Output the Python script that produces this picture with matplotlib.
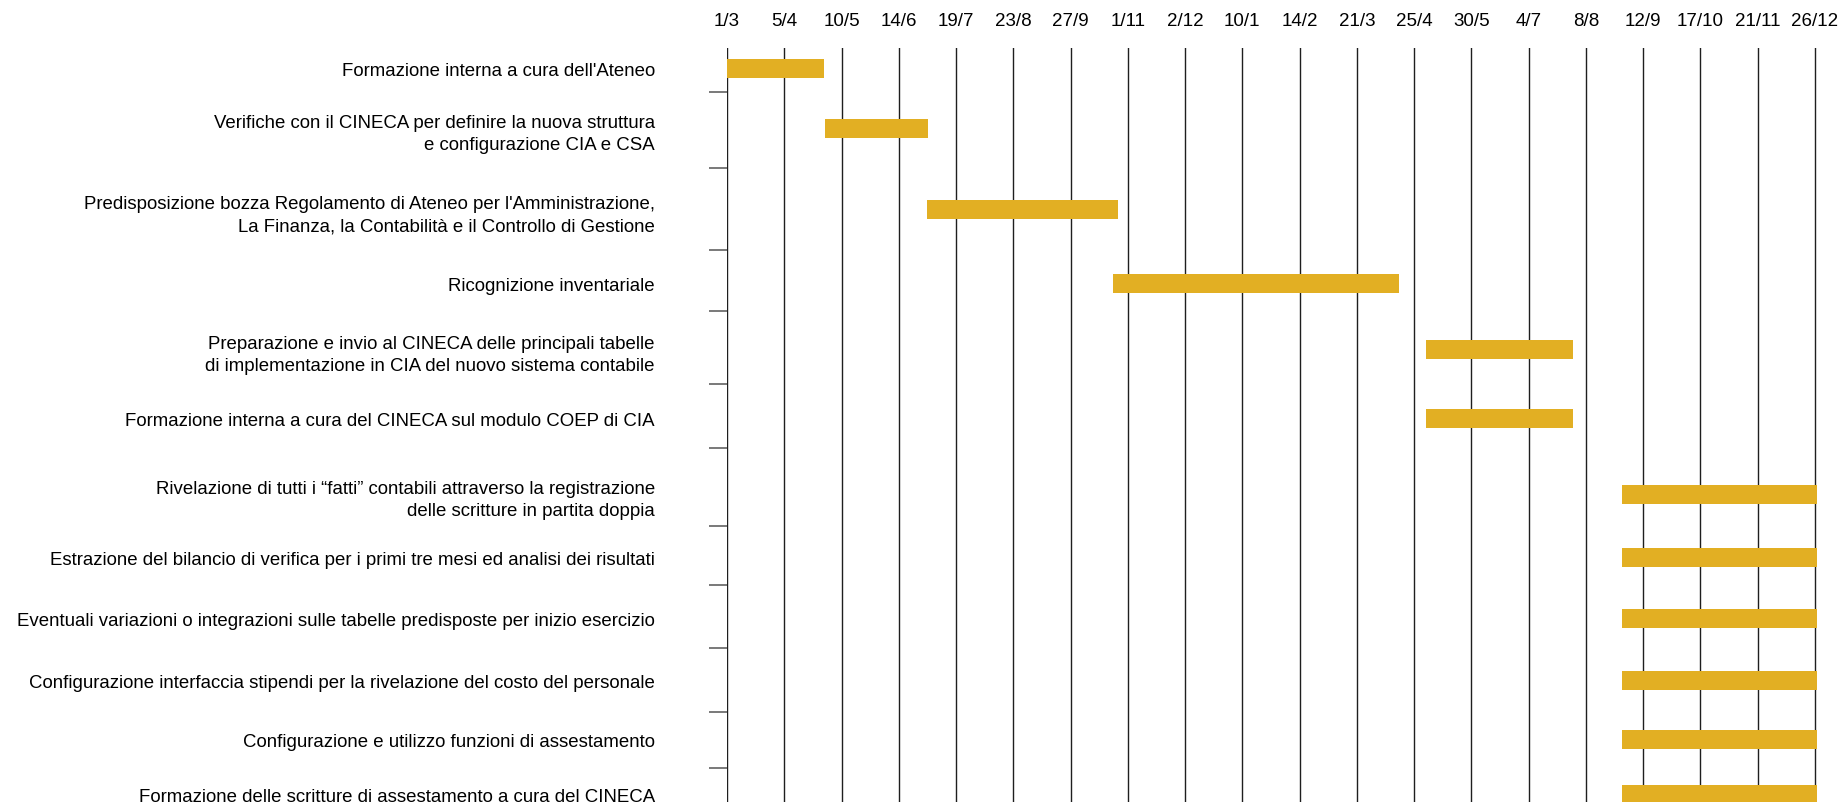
import matplotlib
matplotlib.use("Agg")
import matplotlib.pyplot as plt

# activities (top to bottom)
tasks = [
    "Formazione interna a cura dell'Ateneo",
    "Verifiche con il CINECA per definire la nuova struttura\ne configurazione CIA e CSA",
    "Predisposizione bozza Regolamento di Ateneo per l'Amministrazione,\nLa Finanza, la Contabilità e il Controllo di Gestione",
    "Ricognizione inventariale",
    "Preparazione e invio al CINECA delle principali tabelle\ndi implementazione in CIA del nuovo sistema contabile",
    "Formazione interna a cura del CINECA sul modulo COEP di CIA",
    "Rivelazione di tutti i \u201cfatti\u201d contabili attraverso la registrazione\ndelle scritture in partita doppia",
    "Estrazione del bilancio di verifica per i primi tre mesi ed analisi dei risultati",
    "Eventuali variazioni o integrazioni sulle tabelle predisposte per inizio esercizio",
    "Configurazione interfaccia stipendi per la rivelazione del costo del personale",
    "Configurazione e utilizzo funzioni di assestamento",
    "Formazione delle scritture di assestamento a cura del CINECA",
]
# start / end in days from 1/3
start_day = [0, 60, 122, 236, 427, 427, 547, 547, 547, 547, 547, 547]
end_day = [59, 123, 239, 411, 517, 517, 670, 670, 670, 670, 670, 670]

tick_labels = ["1/3", "5/4", "10/5", "14/6", "19/7", "23/8", "27/9", "1/11", "2/12", "10/1",
               "14/2", "21/3", "25/4", "30/5", "4/7", "8/8", "12/9", "17/10", "21/11", "26/12"]
TICK_STEP = 35  # days between ticks

# layout: row centres and row separators (pixel rows)
ROW_Y = [69.5, 129.5, 210.5, 284.5, 350.5, 419.5, 495.5, 558.5, 619.5, 681.5, 740.5, 795.5]
SEP_Y = [93, 169, 251, 312, 385, 449, 527, 586, 649, 713, 769]
BAR_H = 19
GOLD = "#E2AF23"

W, H = 1842, 803
fig = plt.figure(figsize=(W / 100, H / 100), dpi=100)
x0, x1, ytop, ybot = 727, 1817, 49, 815
ax = fig.add_axes([x0 / W, 1 - ybot / H, (x1 - x0) / W, (ybot - ytop) / H])
ax.set_ylim(ybot, ytop)
ax.set_xlim(0, (x1 - x0) / 57.26 * TICK_STEP)

ticks = [i * TICK_STEP for i in range(len(tick_labels))]
for t in ticks:
    ax.axvline(t, color="#1e1e1e", lw=1.0, zorder=1)

widths = [e - s for s, e in zip(start_day, end_day)]
ax.barh(ROW_Y, widths, left=start_day, height=BAR_H, color=GOLD, zorder=2)

ax.xaxis.tick_top()
ax.set_xticks(ticks)
ax.set_xticklabels(tick_labels, fontsize=13.5, family="Liberation Sans")
ax.tick_params(axis="x", length=0, pad=14)

ax.set_yticks(SEP_Y)
ax.set_yticklabels([])
ax.tick_params(axis="y", which="major", length=13, width=1.1, color="#555555")
ax.set_yticks(ROW_Y, minor=True)
ax.set_yticklabels(tasks, minor=True, fontsize=13.4, family="Liberation Sans",
                   linespacing=1.45)
ax.tick_params(axis="y", which="minor", length=0, pad=52)

for s in ["top", "right", "bottom", "left"]:
    ax.spines[s].set_visible(False)

fig.savefig("out.png", dpi=100)
